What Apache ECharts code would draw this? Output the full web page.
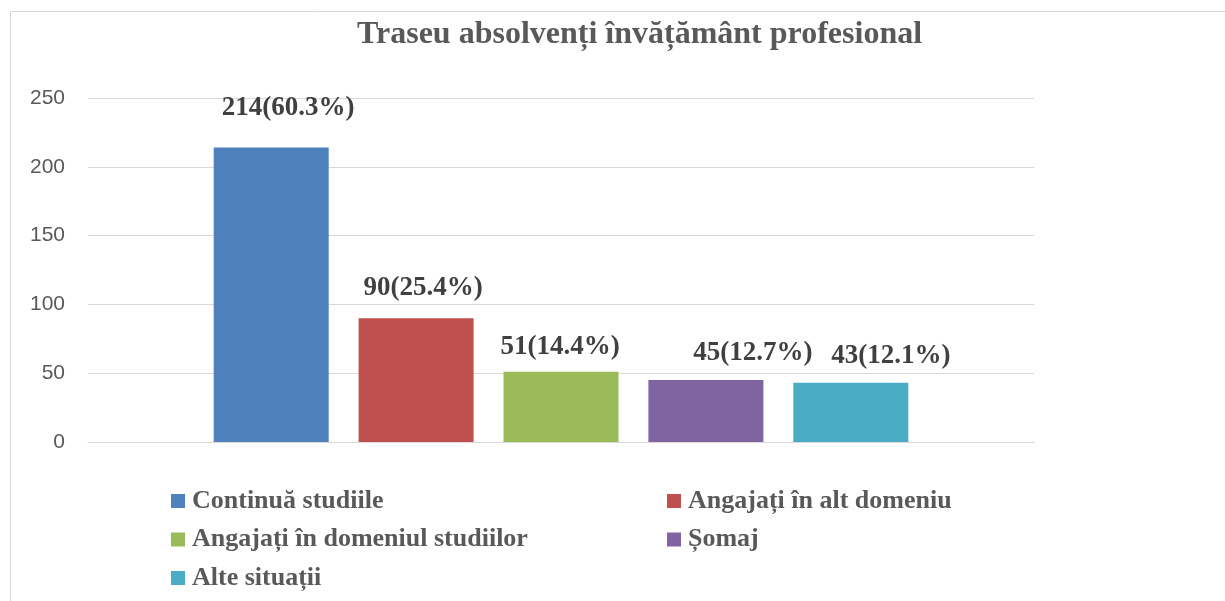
<!DOCTYPE html>
<html>
<head>
<meta charset="utf-8">
<title>Traseu absolvenți</title>
<script src="https://cdn.jsdelivr.net/npm/echarts@6/dist/echarts.min.js"></script>
<style>
  html, body { margin: 0; padding: 0; background: #fff; }
  #chart { width: 1225px; height: 601px; }
</style>
</head>
<body>
<div id="chart"></div>
<script>
// data
var seriesNames = ['Continuă studiile', 'Angajați în alt domeniu', 'Angajați în domeniul studiilor', 'Șomaj', 'Alte situații'];
var counts = [214, 90, 51, 45, 43];
var percents = [60.3, 25.4, 14.4, 12.7, 12.1];
var yTicks = [0, 50, 100, 150, 200, 250];

var colors = ['#4F81BD', '#C0504D', '#9BBB59', '#8064A2', '#4BACC6'];
// label nudges, the labels in the original sit a bit off-centre
var labelOffsets = [[17, -13], [7, -4], [-1, 2], [47, -1], [40, 0]];

var serif = '"Liberation Serif", "Times New Roman", serif';

var chart = echarts.init(document.getElementById('chart'));

var series = seriesNames.map(function (name, i) {
  return {
    name: name,
    type: 'bar',
    data: [counts[i]],
    barWidth: 115,
    barGap: '26%',
    itemStyle: { color: colors[i] },
    label: {
      show: true,
      position: 'top',
      distance: 13,
      offset: labelOffsets[i],
      formatter: counts[i] + '(' + percents[i].toFixed(1) + '%)',
      fontFamily: serif,
      fontWeight: 'bold',
      fontSize: 27,
      color: '#404040'
    }
  };
});

var legendText = {
  fontFamily: serif,
  fontWeight: 'bold',
  fontSize: 26,
  lineHeight: 28,
  color: '#595959',
  padding: [0, 0, 0, 2]
};

var option = {
  animation: false,
  title: {
    text: 'Traseu absolvenți învățământ profesional',
    left: 352,
    top: 14,
    textStyle: {
      fontFamily: serif,
      fontWeight: 'bold',
      fontSize: 32,
      color: '#595959'
    }
  },
  graphic: [{
    type: 'rect',
    shape: { x: 10.5, y: 11.5, width: 1400, height: 800 },
    style: { fill: 'none', stroke: '#d9d9d9', lineWidth: 1 },
    silent: true
  }],
  legend: [{
    orient: 'vertical',
    left: 166,
    top: 482,
    itemWidth: 14,
    itemHeight: 14,
    itemGap: 10.5,
    icon: 'rect',
    data: [seriesNames[0], seriesNames[2], seriesNames[4]],
    textStyle: legendText
  }, {
    orient: 'vertical',
    left: 662,
    top: 482,
    itemWidth: 14,
    itemHeight: 14,
    itemGap: 10.5,
    icon: 'rect',
    data: [seriesNames[1], seriesNames[3]],
    textStyle: legendText
  }],
  grid: { left: 88, right: 191, top: 98, bottom: 159 },
  xAxis: {
    type: 'category',
    data: [''],
    axisTick: { show: false },
    axisLabel: { show: false },
    axisLine: { lineStyle: { color: '#d9d9d9', width: 1 } }
  },
  yAxis: {
    type: 'value',
    min: yTicks[0],
    max: yTicks[yTicks.length - 1],
    interval: 50,
    axisLine: { show: false },
    axisTick: { show: false },
    axisLabel: {
      fontFamily: '"Liberation Sans", Arial, sans-serif',
      fontSize: 21,
      color: '#595959',
      margin: 23
    },
    splitLine: { lineStyle: { color: '#d9d9d9', width: 1 } }
  },
  series: series
};

chart.setOption(option);
</script>
</body>
</html>
